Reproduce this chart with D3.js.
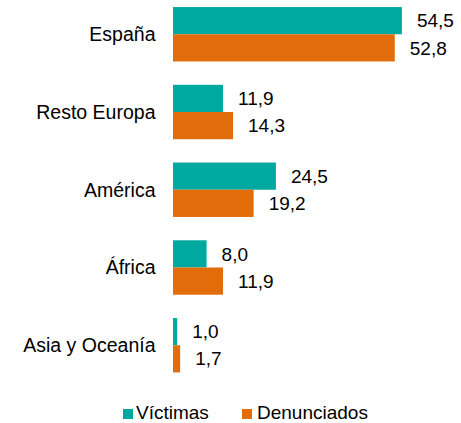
<!DOCTYPE html>
<html>
<head>
<meta charset="utf-8">
<script src="https://cdn.jsdelivr.net/npm/d3@7"></script>
<style>
  body { margin: 0; background: #fff; }
  text { font-family: "Liberation Sans", Arial, sans-serif; fill: #000; }
</style>
</head>
<body>
<div class="chart"></div>
<script>
// data
var categories = ["España", "Resto Europa", "América", "África", "Asia y Oceanía"];
var series = ["Víctimas", "Denunciados"];
var victimas = [54.5, 11.9, 24.5, 8.0, 1.0];
var denunciados = [52.8, 14.3, 19.2, 11.9, 1.7];
var colors = ["#00A9A0", "#E36C0A"];

var svgWidth = 461;
var svgHeight = 423;

var svg = d3.select(".chart")
  .append("svg")
  .attr("width", svgWidth)
  .attr("height", svgHeight);

var rows = categories.map(function(c, i) {
  return { cat: c, values: [victimas[i], denunciados[i]] };
});

var xScale = d3.scaleLinear()
  .domain([0, 60])
  .range([173, 173 + 252]);

var yScale = d3.scaleBand()
  .domain(categories)
  .range([2, 377.5])
  .paddingInner(0.3)
  .paddingOuter(0.065);

var ySub = d3.scaleBand()
  .domain(series)
  .range([0, yScale.bandwidth()]);

var fmt = function(v) { return d3.format(".1f")(v).replace(".", ","); };

// category labels
svg.append("g").selectAll("text")
  .data(categories)
  .enter()
  .append("text")
  .attr("x", 155.5)
  .attr("y", d => yScale(d) + yScale.bandwidth() / 2)
  .attr("dy", "0.35em")
  .attr("text-anchor", "end")
  .style("font-size", "19.5px")
  .text(d => d);

var groups = svg.selectAll(".grp")
  .data(rows)
  .enter()
  .append("g")
  .attr("class", "grp")
  .attr("transform", d => `translate(0, ${yScale(d.cat)})`);

groups.selectAll("rect")
  .data(d => d.values.map((v, j) => ({ s: series[j], v: v, j: j })))
  .enter()
  .append("rect")
  .attr("x", xScale(0))
  .attr("y", d => ySub(d.s))
  .attr("width", d => xScale(d.v) - xScale(0))
  .attr("height", ySub.bandwidth())
  .attr("fill", d => colors[d.j]);

groups.selectAll(".val")
  .data(d => d.values.map((v, j) => ({ s: series[j], v: v, j: j })))
  .enter()
  .append("text")
  .attr("class", "val")
  .attr("x", d => xScale(d.v) + 15)
  .attr("y", d => ySub(d.s) + ySub.bandwidth() / 2)
  .attr("dy", "0.35em")
  .style("font-size", "19px")
  .text(d => fmt(d.v));

// legend
var legend = svg.append("g");
var legendX = [123, 242];
series.forEach(function(s, i) {
  legend.append("rect")
    .attr("x", legendX[i])
    .attr("y", 409)
    .attr("width", 10)
    .attr("height", 10)
    .attr("fill", colors[i]);
  legend.append("text")
    .attr("x", legendX[i] + (i === 0 ? 13 : 15))
    .attr("y", 419)
    .style("font-size", "19px")
    .text(s);
});
</script>
</body>
</html>
